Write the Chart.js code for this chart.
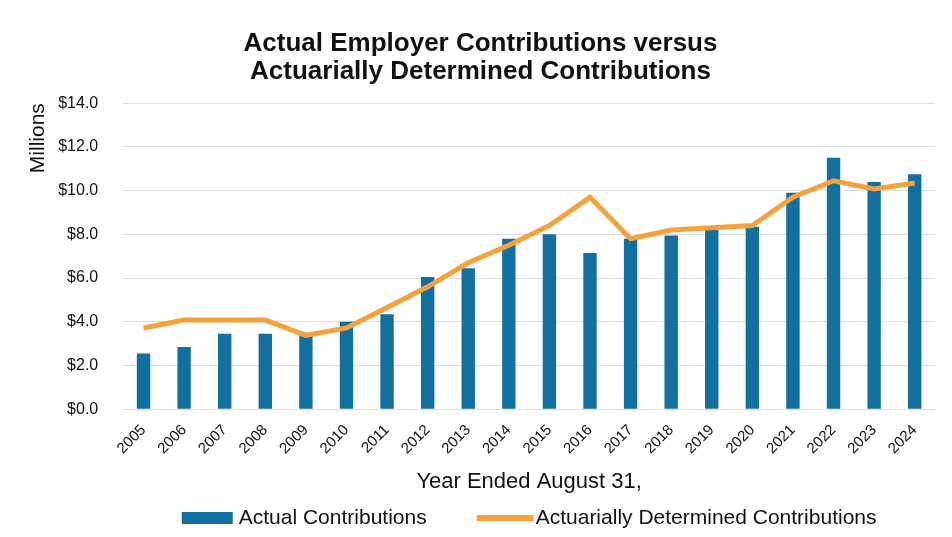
<!DOCTYPE html>
<html>
<head>
<meta charset="utf-8">
<script src="https://cdn.jsdelivr.net/npm/chart.js@4.4.0/dist/chart.umd.min.js"></script>
<style>
  html, body { margin: 0; padding: 0; background: #fff; }
  #wrap { width: 952px; height: 537px; position: relative; }
</style>
</head>
<body>
<div id="wrap"><canvas id="contributions"></canvas></div>
<script>
"use strict";

const years = ["2005", "2006", "2007", "2008", "2009", "2010", "2011", "2012", "2013", "2014",
  "2015", "2016", "2017", "2018", "2019", "2020", "2021", "2022", "2023", "2024"];
const actualContributions = [2.55, 2.85, 3.45, 3.45, 3.5, 4.0, 4.35, 6.05, 6.45, 7.8,
  8.0, 7.15, 7.8, 7.95, 8.2, 8.35, 9.9, 11.5, 10.4, 10.75];
const determinedContributions = [3.72, 4.08, 4.08, 4.08, 3.38, 3.72, 4.65, 5.6, 6.7, 7.5,
  8.4, 9.7, 7.8, 8.2, 8.3, 8.4, 9.7, 10.45, 10.08, 10.35];

const fontFamily = "'Liberation Sans', Arial, sans-serif";
const barColor = "#12709f";
const lineColor = "#f5a23e";

// legend row under the axis title, centred on the plot area
const bottomLegend = {
  id: "bottomLegend",
  afterDraw(chart) {
    const c = chart.ctx;
    const area = chart.chartArea;
    const items = [
      { text: chart.data.datasets[1].label, color: barColor, boxW: 51, thick: 12, gap: 6 },
      { text: chart.data.datasets[0].label, color: lineColor, boxW: 57, thick: 6, gap: 2 },
    ];
    const itemGap = 50, y = 518;
    c.save();
    c.font = "21px " + fontFamily;
    c.textBaseline = "middle";
    let total = 0;
    items.forEach((it, i) => {
      it.w = it.boxW + it.gap + c.measureText(it.text).width;
      total += it.w + (i ? itemGap : 0);
    });
    let x = (area.left + area.right) / 2 - total / 2;
    items.forEach((it) => {
      c.fillStyle = it.color;
      c.fillRect(x, y - it.thick / 2, it.boxW, it.thick);
      c.fillStyle = "#111";
      c.fillText(it.text, x + it.boxW + it.gap, y);
      x += it.w + itemGap;
    });
    c.restore();
  },
};

const ctx = document.getElementById("contributions").getContext("2d");

const contributionsChart = new Chart(ctx, {
  data: {
    labels: years,
    datasets: [
      {
        type: "line",
        label: "Actuarially Determined Contributions",
        data: determinedContributions,
        borderColor: lineColor,
        backgroundColor: lineColor,
        borderWidth: 5,
        pointRadius: 0,
        tension: 0,
      },
      {
        type: "bar",
        label: "Actual Contributions",
        data: actualContributions,
        backgroundColor: barColor,
        borderWidth: 0,
        categoryPercentage: 1,
        barPercentage: 0.33,
      },
    ],
  },
  options: {
    responsive: true,
    maintainAspectRatio: false,
    animation: false,
    layout: {
      padding: { top: 30, right: 17, left: 26, bottom: 42 },
    },
    plugins: {
      title: {
        display: true,
        text: ["Actual Employer Contributions versus", "Actuarially Determined Contributions"],
        color: "#111",
        font: { family: fontFamily, size: 26, weight: "bold", lineHeight: 1.08 },
        padding: { top: 0, bottom: 17 },
      },
      legend: { display: false },
      tooltip: { enabled: false },
    },
    scales: {
      x: {
        grid: { display: false },
        border: { display: false },
        ticks: {
          color: "#111",
          font: { family: fontFamily, size: 15 },
          minRotation: 45,
          maxRotation: 45,
          padding: 4,
        },
        title: {
          display: true,
          text: "Year Ended August 31,",
          color: "#111",
          font: { family: fontFamily, size: 22 },
          padding: { top: 7, bottom: 0 },
        },
      },
      y: {
        min: 0,
        max: 14,
        grid: { color: "#dedede", drawTicks: false },
        border: { display: false },
        ticks: {
          stepSize: 2,
          color: "#111",
          padding: 25,
          font: { family: fontFamily, size: 16 },
          callback: (value) => "$" + value.toFixed(1),
        },
        title: {
          display: true,
          text: "Millions",
          align: "end",
          color: "#111",
          font: { family: fontFamily, size: 21 },
          padding: { top: 0, bottom: -18 },
        },
      },
    },
  },
  plugins: [bottomLegend],
});
</script>
</body>
</html>
